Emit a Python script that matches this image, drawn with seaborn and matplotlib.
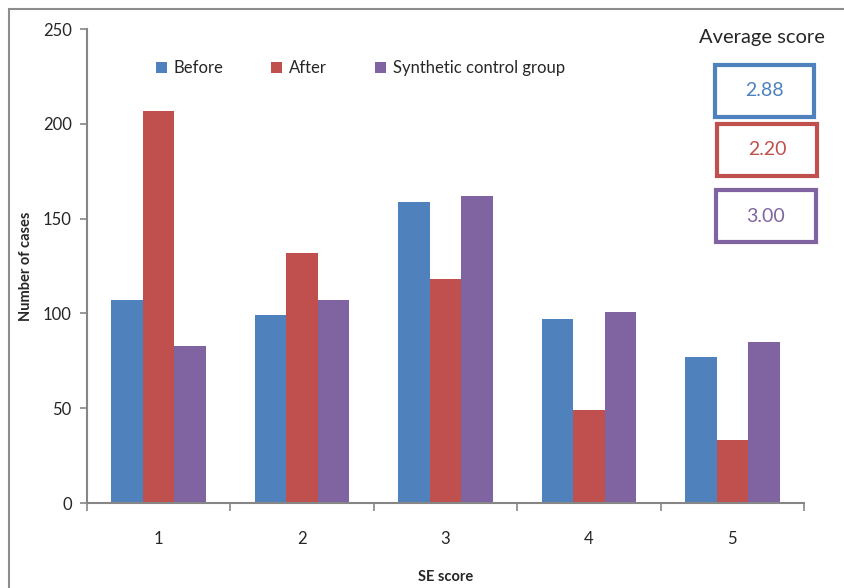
import pandas as pd
import numpy as np
import matplotlib
matplotlib.use('Agg')
import matplotlib.pyplot as plt
import seaborn as sns
from matplotlib.patches import Rectangle

# ==========================================
# 数据
# ==========================================
se_scores = ['1', '2', '3', '4', '5']
before = [107, 99, 159, 97, 77]
after = [207, 132, 118, 49, 33]
synthetic = [83, 107, 162, 101, 85]
series_names = ['Before', 'After', 'Synthetic control group']
avg_scores = ['2.88', '2.20', '3.00']

colors = ['#4F81BD', '#C0504D', '#8064A2']

df = pd.DataFrame({
    'SE score': se_scores * 3,
    'Number of cases': before + after + synthetic,
    'group': [n for n in series_names for _ in se_scores],
})

# ==========================================
# 样式
# ==========================================
sns.set_theme(style="white")
plt.rcParams['font.family'] = ['Lato', 'DejaVu Sans']

W, H = 845, 588
fig = plt.figure(figsize=(W / 100, H / 100), dpi=100)
ax = fig.add_axes([87 / W, 85 / H, (804 - 87) / W, (503 - 29) / H])

sns.barplot(data=df, x='SE score', y='Number of cases', hue='group',
            palette=colors, width=0.66, gap=0, linewidth=0, saturation=1, ax=ax)

ax.set_xlim(-0.5, 4.5)
ax.set_ylim(0, 250)
ax.set_yticks(range(0, 251, 50))
ax.tick_params(axis='y', direction='out', length=5, width=1.2, color='#868686',
               labelsize=12, left=True, pad=6)

# x 轴：刻度线在类别之间，标签在类别中心
ax.set_xticks(np.arange(-0.5, 5, 1))
ax.set_xticklabels([])
ax.set_xticks(range(5), minor=True)
ax.set_xticklabels(se_scores, minor=True)
ax.tick_params(axis='x', which='major', direction='out', length=6, width=1.2,
               color='#868686', bottom=True)
ax.tick_params(axis='x', which='minor', length=0, labelsize=12, pad=20)

for s in ['top', 'right']:
    ax.spines[s].set_visible(False)
for s in ['left', 'bottom']:
    ax.spines[s].set_color('#868686')
    ax.spines[s].set_linewidth(1.5)

ax.set_xlabel('SE score', fontsize=10.5, fontweight='bold', labelpad=17)
ax.set_ylabel('Number of cases', fontsize=10.5, fontweight='bold', labelpad=7)

leg = ax.legend(loc='upper left', bbox_to_anchor=(0.075, 0.966), ncol=3,
                frameon=False, fontsize=12, handlelength=0.65, handleheight=0.65,
                handletextpad=0.4, columnspacing=2.9)

# 平均分标注
fig.text(762 / W, 1 - 38 / H, 'Average score', ha='center', va='center', fontsize=14.5)
boxes = [(715, 65, 814, 117), (717, 124, 817, 176), (716, 190, 816, 242)]
for txt, c, (x0, y0, x1, y1) in zip(avg_scores, colors, boxes):
    fig.add_artist(Rectangle((x0 / W, 1 - y1 / H), (x1 - x0) / W, (y1 - y0) / H,
                             transform=fig.transFigure, fill=False, ec=c, lw=3))
    fig.text((x0 + x1) / 2 / W, 1 - (y0 + y1) / 2 / H, txt, ha='center', va='center',
             fontsize=14, color=c)

# 外框
fig.add_artist(Rectangle((9 / W, -0.1), 1.0, 1.1 - 9 / H, transform=fig.transFigure,
                         fill=False, ec='#8c8c8c', lw=1.5))

fig.savefig('out.png', dpi=100)
plt.close()
